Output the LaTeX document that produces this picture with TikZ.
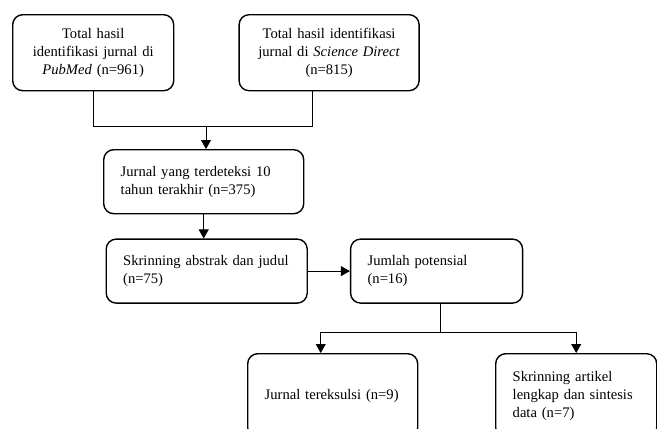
\documentclass[tikz,border=0pt]{standalone}
\usepackage{fontspec}
\setmainfont{Liberation Serif}
\usetikzlibrary{arrows.meta,positioning,calc}

\begin{document}
\begin{tikzpicture}[x=1pt, y=-1pt,
    box/.style={draw, line width=1.4pt, rounded corners=10pt, inner xsep=17pt, inner ysep=0pt, font=\fontsize{14.6}{18}\selectfont},
    line/.style={line width=0.9pt},
    arrow/.style={line width=0.9pt, -{Triangle[length=9pt, width=10pt]}}
]
\clip (0,0) rectangle (657,429);
\node[box, anchor=north west, text width=127pt, minimum height=76pt, align=center] (pubmed) at (12,14) {Total hasil\\identifikasi jurnal di\\\textit{PubMed} (n=961)};
\node[box, right=64pt of pubmed, text width=146pt, minimum height=76pt, align=center] (sd) {Total hasil identifikasi\\jurnal di \textit{Science Direct}\\(n=815)};
\node[box, anchor=north west, text width=166pt, minimum height=64pt, align=left] (tahun) at (103,149) {Jurnal yang terdeteksi 10\\tahun terakhir (n=375)};
\node[box, below=24pt of tahun, xshift=3pt, text width=167pt, minimum height=64pt, align=left] (skrin) {Skrinning abstrak dan judul\\(n=75)};
\node[box, right=42pt of skrin, text width=138pt, minimum height=64pt, align=left] (jumlah) {Jumlah potensial\\(n=16)};
\node[box, anchor=north west, text width=136pt, minimum height=84pt, align=left] (ekslusi) at (247,353) {Jurnal tereksulsi (n=9)};
\node[box, anchor=north west, text width=127pt, minimum height=84pt, align=left] (sintesis) at (495,353) {Skrinning artikel\\lengkap dan sintesis\\data (n=7)};
\coordinate (top join) at (206,126);
\coordinate (bottom join) at ($(jumlah.south)+(4,29)$);
\draw[line] (pubmed.south) |- (top join);
\draw[line] ($(sd.south west)!0.41!(sd.south east)$) |- (top join);
\draw[arrow] (top join) -- (top join |- tahun.north);
\draw[arrow] (tahun.south) -- (tahun.south |- skrin.north);
\draw[arrow] (skrin.east) -- (jumlah.west);
\draw[line] (bottom join |- jumlah.south) -- (bottom join);
\draw[arrow] (bottom join) -| ($(ekslusi.north west)!0.43!(ekslusi.north east)$);
\draw[arrow] (bottom join) -| (sintesis.north);
\end{tikzpicture}
\end{document}
